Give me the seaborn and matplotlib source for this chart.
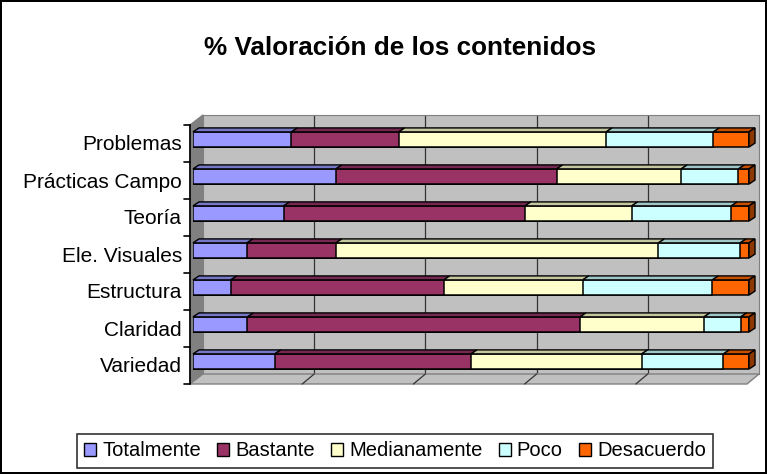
import numpy as np
import pandas as pd
import matplotlib
matplotlib.use('Agg')
import matplotlib.pyplot as plt
import seaborn as sns
from matplotlib.patches import Polygon, Patch
from matplotlib.lines import Line2D
from matplotlib.transforms import ScaledTranslation

# data (percent of answers per item)
categories = ['Problemas', 'Prácticas Campo', 'Teoría', 'Ele. Visuales',
              'Estructura', 'Claridad', 'Variedad']
series = ['Totalmente', 'Bastante', 'Medianamente', 'Poco', 'Desacuerdo']
totalmente = [17.7, 25.7, 16.3, 9.7, 6.8, 9.8, 14.7]
bastante = [19.3, 39.7, 43.4, 16.0, 38.3, 59.8, 35.3]
medianamente = [37.3, 22.4, 19.2, 58.0, 25.0, 22.3, 30.7]
poco = [19.3, 10.3, 17.9, 14.7, 23.3, 6.6, 14.7]
desacuerdo = [6.4, 1.9, 3.2, 1.6, 6.6, 1.5, 4.6]
colors = ['#9999FF', '#993366', '#FFFFCC', '#CCFFFF', '#FF6600']

sns.set_style('white')
plt.rcParams['font.family'] = ['Liberation Sans', 'DejaVu Sans']
plt.rcParams['text.color'] = 'black'
plt.rcParams['ytick.color'] = 'black'

W, H = 767, 474
fig = plt.figure(figsize=(W / 100, H / 100), dpi=100)
fig.patch.set_edgecolor('black')
fig.patch.set_linewidth(1.5)


def fx(px):
    return px / W


def fy(py):
    return 1 - py / H


# back wall
ax_back = fig.add_axes([fx(203), fy(374), fx(556), 259 / H])
ax_back.set_zorder(0)
ax_back.set_facecolor('#C0C0C0')
ax_back.set_xlim(0, 100)
ax_back.set_ylim(0, 1)
for gx in [20, 40, 60, 80]:
    ax_back.axvline(gx, color='#333333', lw=0.9)
ax_back.set_xticks([])
ax_back.set_yticks([])
for sp in ax_back.spines.values():
    sp.set_color('#808080')

# left wall and floor
fig.patches.append(Polygon([(fx(190), fy(125)), (fx(203), fy(115)), (fx(203), fy(374)), (fx(190), fy(384))],
                           closed=True, transform=fig.transFigure, facecolor='#808080',
                           edgecolor='#808080', lw=1))
fig.patches.append(Polygon([(fx(190), fy(384)), (fx(747), fy(384)), (fx(759), fy(374)), (fx(203), fy(374))],
                           closed=True, transform=fig.transFigure, facecolor='#C0C0C0',
                           edgecolor='#808080', lw=1))
for k in range(1, 5):
    bx = 203 + 556 * k / 5
    fig.lines.append(Line2D([fx(bx), fx(bx - 12)], [fy(374), fy(384)], transform=fig.transFigure,
                            color='#333333', lw=0.9))
fig.lines.append(Line2D([fx(190), fx(190)], [fy(125), fy(384)], transform=fig.transFigure,
                        color='black', lw=1.2))
for k in range(len(categories) + 1):
    ty = 125 + 259 * k / len(categories)
    fig.lines.append(Line2D([fx(184), fx(190)], [fy(ty), fy(ty)], transform=fig.transFigure,
                            color='black', lw=1.2))

# bars
ax = fig.add_axes([fx(193), fy(380), fx(556), 259 / H])
ax.set_zorder(5)
ax.patch.set_alpha(0)
vals = np.array([totalmente, bastante, medianamente, poco, desacuerdo])
cum = vals.cumsum(axis=0)
cum = cum / cum[-1] * 100
height = 0.41
for j in range(len(series) - 1, -1, -1):
    df = pd.DataFrame({'cat': categories, 'val': cum[j]})
    sns.barplot(data=df, x='val', y='cat', order=categories, orient='h', color=colors[j],
                saturation=1, width=height, edgecolor='black', linewidth=1.1, ax=ax)

# 3D faces of the bars
dx, dy = 6 / 5.56, 4 / 37


def shade(c, f):
    r, g, b = matplotlib.colors.to_rgb(c)
    return (r * f, g * f, b * f)


for i in range(len(categories)):
    top = i - height / 2
    left = 0
    for j in range(len(series)):
        right = cum[j][i]
        ax.add_patch(Polygon([(left, top), (right, top), (right + dx, top - dy), (left + dx, top - dy)],
                             closed=True, facecolor=shade(colors[j], 0.78), edgecolor='black',
                             lw=1.0, clip_on=False))
        left = right
    ax.add_patch(Polygon([(100, top), (100 + dx, top - dy), (100 + dx, top + height - dy), (100, top + height)],
                         closed=True, facecolor=shade(colors[-1], 0.55), edgecolor='black',
                         lw=1.0, clip_on=False))

ax.set_xlim(0, 100)
ax.set_ylim(len(categories) - 0.5, -0.5)
ax.set_xlabel('')
ax.set_ylabel('')
ax.set_xticks([])
sns.despine(ax=ax, left=True, bottom=True)
ax.tick_params(axis='y', length=0, pad=8, labelsize=15, labelcolor='black')
for lab in ax.get_yticklabels():
    lab.set_transform(lab.get_transform() + ScaledTranslation(0, -0.035, fig.dpi_scale_trans))

fig.text(fx(400), fy(48), '% Valoración de los contenidos', ha='center', va='center',
         fontsize=18.8, fontweight='bold', color='black')

handles = [Patch(facecolor=c, edgecolor='black', lw=1) for c in colors]
leg = fig.legend(handles, series, loc='center', bbox_to_anchor=(fx(395), fy(451)), ncol=5,
                 frameon=True, fancybox=False, edgecolor='black', fontsize=14.5,
                 handlelength=0.6, handleheight=0.6, handletextpad=0.3, columnspacing=0.8,
                 borderpad=0.35)
leg.get_frame().set_linewidth(1.2)

fig.savefig('out.png', dpi=100)
